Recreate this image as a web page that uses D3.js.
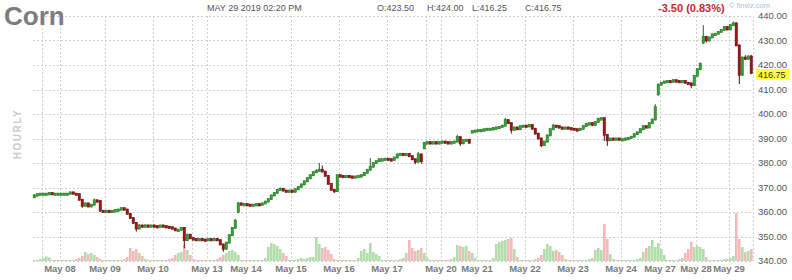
<!DOCTYPE html>
<html>
<head>
<meta charset="utf-8">
<script src="https://cdn.jsdelivr.net/npm/d3@7"></script>
<style>
body{margin:0;background:#fff;}
svg{font-family:Arial,"Liberation Sans",sans-serif;}
</style>
</head>
<body>
<div class="container"></div>
<script>
/* Corn futures, hourly candles May 08 - May 29 2019 */
var width = 792;
var height = 280;
var margin = {top: 16, right: 39, bottom: 19, left: 33};

// hourly bars, one entry per bar
var opens = [366,366.75,367.25,367.5,367.5,367.5,367.75,367.5,367.5,367.5,
  367.5,367.5,367.5,368,367.5,367.25,365,362.5,363.5,362.25,
  363,364.75,364.5,360.5,360.25,360.5,360.25,360.5,360.75,361,
  361.5,361,359.25,357.5,355.5,353.25,354.5,354,354.5,354.25,
  354.5,354.25,354,354.5,354.25,354,353.75,353.25,352.5,352.75,
  353.5,348.5,350.75,349.25,349,348.75,349,348.75,348.5,349,
  348.75,349,348.5,346.75,345,347.5,350.5,353.5,360,363.5,
  363,363.25,363,362.75,363,363.25,363,363.5,364.25,365.25,
  366.75,367.75,369,369.5,368.75,368.25,368.75,368.25,369.25,370.25,
  371.25,372.5,373.75,375,376.25,376.75,377.25,376.5,374.75,371.5,
  369,368.5,375,374.75,374.5,374.75,374.5,374.25,374.5,374.75,
  375,376,377.25,378.5,380,380.75,381.5,381.5,381.75,381.5,
  381.25,382.25,383.5,383.75,383.5,383.75,382.75,381.5,380.5,383.5,
  386,388.25,388.5,388.25,388.5,388.25,388.5,388.75,388.5,388.25,
  388.5,388.75,390.5,388,389.25,389.5,392.5,393,393.25,393.5,
  393.5,393.75,394,394,394.25,394.5,394.75,395.25,397.5,396.25,
  393.5,394.5,393.75,395,395.25,395,395.5,394,392,390,
  387.25,388.75,391.25,393.75,395.25,395,394.5,394.25,394.5,394.25,
  394,393.75,393.5,394,395,396,396.25,395.5,396.75,398,
  398.25,391.5,389.25,390,389.75,390,389.5,389.75,390,390.25,
  390.75,391.75,392.5,393.75,395,394.5,396.25,397.75,408,412,
  412.75,413.25,413.5,413.25,413.75,413.5,413.25,413.5,412.75,412.5,
  411.75,415.5,418.25,429,431.5,430,431.25,432.5,432.75,433.5,
  434.25,435.5,434.5,436.25,437,428,416,423,422.5,423.5];
var highs = [367.25,367.5,367.75,367.75,367.75,368,368,367.75,367.75,367.75,
  367.75,367.75,368.25,368.25,367.75,367.5,365.25,363.75,363.75,363.25,
  365.5,365,364.75,360.75,360.75,360.75,360.75,361,361.25,361.75,
  361.75,361.25,359.5,357.75,355.75,355,354.75,355,354.75,354.75,
  354.75,354.5,354.75,354.75,354.5,354.25,354,353.5,353,353.75,
  353.75,351,351,349.5,349.25,349.25,349.25,349,349.25,349.25,
  349.25,349.25,348.75,347,347.75,350.75,353.75,357,364,363.75,
  363.5,363.5,363.25,363.25,363.5,363.5,363.75,364.5,365.5,367,
  368,369.25,370,369.75,369,369,369,369.5,370.5,371.5,
  372.75,374,375.25,376.5,377.5,380,379,376.75,375,371.75,
  369.25,375.25,375.25,375,375,375,374.75,374.75,375,375.25,
  376.25,377.5,382,380.25,381,381.75,381.75,382,382,381.75,
  382.5,383.75,384,384,384,384,383,381.75,384.5,383.75,
  388.5,388.75,388.75,388.75,388.75,388.75,389,389,388.75,388.75,
  389,391.5,390.75,389.5,389.75,389.75,393.25,393.5,393.75,393.75,
  394,394.25,394.25,394.5,394.75,395,395.5,398.5,397.75,396.5,
  394.75,394.75,395.25,395.5,395.5,395.75,395.75,394.25,392.25,390.25,
  389,391.5,394,396,395.5,395.25,394.75,394.75,394.75,394.5,
  394.25,394,394.25,395.25,396.25,396.5,396.5,397,398.5,398.5,
  398.5,391.75,390.25,390.25,390.25,390.25,390,390.25,390.5,391,
  392,392.75,394,395.25,395.25,396.5,398,404,412.25,413,
  413.5,413.75,413.75,414,414,413.75,413.75,413.75,413,412.75,
  415.75,418.5,421,436.25,431.75,431.5,432.75,433,433.75,434.5,
  435.75,435.75,436.5,437.75,437.25,428.25,423.5,424,423.75,424];
var lows = [365.75,366.5,367,367.25,367.25,367.25,367.25,367.25,367.25,367.25,
  367.25,367.25,367.25,367.25,367,364.75,361.75,362.25,362,362,
  362.75,364.25,360.25,360,360,360,360,360.25,360.5,360.75,
  360.75,359,357.25,355.25,352,353,353.75,353.75,354,354,
  354,353.75,353.75,354,353.75,353.5,353,352.25,352.25,352.5,
  345.25,348.25,349,348.75,348.5,348.5,348.5,348.25,348.25,348.5,
  348.5,348.25,346.5,343.75,344.75,347.25,350.25,353.25,359.5,362.75,
  362.75,362.75,362.5,362.5,362.75,362.75,362.75,363.25,364,365,
  366.5,367.5,368.75,368.5,368,368,368,368,369,370,
  371,372.25,373.5,374.75,376,376.5,376.25,374.5,371.25,368.75,
  367.75,368.25,374.5,374.25,374.25,374.25,374,374,374.25,374.5,
  374.75,375.75,377,378.25,379.75,380.5,381,381.25,381.25,381,
  381,382,383.25,383.25,383.25,382.5,381.25,379.5,380.25,379.75,
  385.75,388,388,388,388,388,388.25,388.25,388,388,
  388.25,388.5,387,387.75,389,388,392.25,392.75,393,393.25,
  393.25,393.5,393.75,393.75,394,394.25,394.5,395,396,392,
  393.25,393.5,393.5,394.75,394.75,394.75,393.75,391.75,389.75,386.5,
  387,388.5,391,393.5,394.75,394.25,394,394,394,393.75,
  393.5,393.25,393.25,393.75,394.75,395.75,395.25,395.25,396.5,397.75,
  389,387,389,389.5,389.5,389.25,389.25,389.5,389.75,390,
  390.5,391.5,392.25,393.5,394.25,394.25,396,397.5,407.5,411.75,
  412.5,413,413,413,413.25,413,413,412.5,412.25,410.5,
  411.5,415.25,418,428.75,429.25,429.75,431,432.25,432.5,433.25,
  434,434.25,434.25,436,427.75,412.25,415.5,422.25,422.25,416.25];
var closes = [366.75,367.25,367.5,367.5,367.5,367.75,367.5,367.5,367.5,367.5,
  367.5,367.5,368,367.5,367.25,365,362.5,363.5,362.25,363,
  364.75,364.5,360.5,360.25,360.5,360.25,360.5,360.75,361,361.5,
  361,359.25,357.5,355.5,353.25,354.5,354,354.5,354.25,354.5,
  354.25,354,354.5,354.25,354,353.75,353.25,352.5,352.75,353.5,
  348.5,350.75,349.25,349,348.75,349,348.75,348.5,349,348.75,
  349,348.5,346.75,345,347.5,350.5,353.5,356.5,363.5,363,
  363.25,363,362.75,363,363.25,363,363.5,364.25,365.25,366.75,
  367.75,369,369.5,368.75,368.25,368.75,368.25,369.25,370.25,371.25,
  372.5,373.75,375,376.25,376.75,377.25,376.5,374.75,371.5,369,
  368.5,375,374.75,374.5,374.75,374.5,374.25,374.5,374.75,375,
  376,377.25,378.5,380,380.75,381.5,381.5,381.75,381.5,381.25,
  382.25,383.5,383.75,383.5,383.75,382.75,381.5,380.5,383.5,380.75,
  388.25,388.5,388.25,388.5,388.25,388.5,388.75,388.5,388.25,388.5,
  388.75,390.5,388,389.25,389.5,388.25,393,393.25,393.5,393.5,
  393.75,394,394,394.25,394.5,394.75,395.25,397.5,396.25,393.5,
  394.5,393.75,395,395.25,395,395.5,394,392,390,387.25,
  388.75,391.25,393.75,395.25,395,394.5,394.25,394.5,394.25,394,
  393.75,393.5,394,395,396,396.25,395.5,396.75,398,398.25,
  391.5,389.25,390,389.75,390,389.5,389.75,390,390.25,390.75,
  391.75,392.5,393.75,395,394.5,396.25,397.75,402.75,412,412.75,
  413.25,413.5,413.25,413.75,413.5,413.25,413.5,412.75,412.5,411.75,
  415.5,418.25,420.5,431.5,430,431.25,432.5,432.75,433.5,434.25,
  435.5,434.5,436.25,437,428,416,423,422.5,423.5,416.75];
var volumes = [1,1,2,3,4.5,3.5,1,1,1,1,
  1,1,1,1,2,3,5,9,7,8,
  6,4,2,1,1,1,1,1,1,1,
  2,4,13,10,12,8,5,2,1,1,
  1,1,1,1,1,2,3,6,8,9,
  16,11,6,2,1,1,1,1,1,1,
  1,2,4,6,8,10,11,9,6,1,
  1,1,1,1,1,1,1,3,14,18,
  17,15,12,8,5,1,1,1,2,3,
  2,3,4,4,24,17,13,14,11,7,
  2,1,1,1,1,1,1,1,3,10,
  12,8,18,9,7,5,1,1,1,1,
  1,1,2,3,8,21,13,10,11,13,
  8,3,1,1,1,1,1,1,1,2,
  4,16,15,14,15,10,8,3,1,1,
  1,1,1,3,17,19,20,21,22,23,
  12,4,1,1,1,1,1,2,3,6,
  12,17,15,10,11,9,6,2,1,1,
  1,1,1,1,1,2,3,11,13,11,
  37,22,7,2,1,1,1,1,1,1,
  1,2,3,9,13,15,21,14,18,12,
  6,1,1,1,1,2,3,8,12,19,
  14,15,14,12,4,1,1,1,1,1,
  2,2,3,5,48,22,14,9,10,12];

var priceTicks = [340,350,360,370,380,390,400,410,420,430,440];
var gridBars = [3,9,24,40,53,58,71,86,102,118,131,136,148,164,180,196,209,221,232];
var dayLabels = ["May 08","May 09","May 10","May 13","May 14","May 15","May 16","May 17",
  "May 20","May 21","May 22","May 23","May 24","May 27","May 28","May 29"];
var dayBars = [9,24,40,58,71,86,102,118,136,148,164,180,196,209,221,232];

var lastPrice = 416.75;
var quote = {time: "MAY 29 2019 02:20 PM", o: "O:423.50", h: "H:424.00", l: "L:416.25", c: "C:416.75", chg: "-3.50 (0.83%)"};

var green = "#35a335", red = "#a01515";
var greenEdge = "#1f6b1f", redEdge = "#5e0b0b";
var volGreen = "#b2ddab", volRed = "#f5b8b8";

var svg = d3.select(".container").append("svg")
  .attr("width", width).attr("height", height);

var xScale = d3.scaleBand().domain(d3.range(closes.length))
  .range([margin.left, width - margin.right]);
var yScale = d3.scaleLinear().domain([340, 440])
  .range([height - margin.bottom, margin.top]);
var volScale = d3.scaleLinear().domain([0, d3.max(volumes)])
  .range([0, 48]);
var bw = xScale.bandwidth();
var yBottom = height - margin.bottom;

//-----------------------------------------
// grid
svg.append("g").selectAll("line").data(priceTicks).enter().append("line")
  .attr("x1", margin.left).attr("x2", width - margin.right)
  .attr("y1", d => Math.round(yScale(d)) + 0.5).attr("y2", d => Math.round(yScale(d)) + 0.5)
  .attr("stroke", "#cfcfcf").attr("stroke-dasharray", "2,2");
svg.append("g").selectAll("line").data(gridBars.concat([closes.length])).enter().append("line")
  .attr("x1", d => (d < closes.length ? xScale(d) : width - margin.right) + 0.5)
  .attr("x2", d => (d < closes.length ? xScale(d) : width - margin.right) + 0.5)
  .attr("y1", margin.top).attr("y2", yBottom)
  .attr("stroke", "#cfcfcf").attr("stroke-dasharray", "2,2");

//-----------------------------------------
// volume
svg.append("g").selectAll("rect").data(volumes).enter().append("rect")
  .attr("x", (d, i) => xScale(i))
  .attr("y", d => yBottom - volScale(d))
  .attr("width", bw - 0.4)
  .attr("height", d => volScale(d))
  .attr("fill", (d, i) => closes[i] >= opens[i] ? volGreen : volRed);

//-----------------------------------------
// candles
var up = (d, i) => d >= opens[i];
var candle = svg.append("g").selectAll("g").data(closes).enter().append("g");
candle.append("rect")
  .attr("x", (d, i) => xScale(i) + 0.8)
  .attr("y", (d, i) => yScale(highs[i]))
  .attr("width", 1)
  .attr("height", (d, i) => Math.max(1, yScale(lows[i]) - yScale(highs[i])))
  .attr("fill", (d, i) => up(d, i) ? greenEdge : redEdge);
candle.append("rect")
  .attr("x", (d, i) => xScale(i) + 0.1)
  .attr("y", (d, i) => yScale(Math.max(d, opens[i])) - 0.6)
  .attr("width", bw - 0.6)
  .attr("height", (d, i) => Math.max(1.4, Math.abs(yScale(d) - yScale(opens[i]))) + 1.2)
  .attr("fill", (d, i) => up(d, i) ? green : red)
  .attr("stroke", (d, i) => up(d, i) ? greenEdge : redEdge)
  .attr("stroke-width", 0.5);

//-----------------------------------------
// axes text
svg.append("g").selectAll("text").data(priceTicks).enter().append("text")
  .attr("x", 758).attr("y", d => yScale(d) + 3)
  .attr("font-size", "9.5px").attr("fill", "#555")
  .text(d => d3.format(".2f")(d));

svg.append("rect").attr("x", 756).attr("y", yScale(lastPrice) - 3.8)
  .attr("width", 33).attr("height", 10.5).attr("fill", "#ffff3c");
svg.append("text").attr("x", 758).attr("y", yScale(lastPrice) + 5.3)
  .attr("font-size", "9px").attr("fill", "#333")
  .text(d3.format(".2f")(lastPrice));

svg.append("g").selectAll("text").data(dayLabels).enter().append("text")
  .attr("x", (d, i) => xScale(dayBars[i]))
  .attr("y", 272)
  .attr("text-anchor", "middle")
  .attr("font-size", "9.5px").attr("font-weight", "bold").attr("fill", "#7a7a7a")
  .text(d => d);

//-----------------------------------------
// header
svg.append("text").attr("x", 4).attr("y", 25)
  .attr("font-size", "26px").attr("font-weight", "bold").attr("fill", "#7d7d7d")
  .text("Corn");
svg.append("text").attr("x", 207).attr("y", 11)
  .attr("font-size", "9px").attr("fill", "#555").text(quote.time);
[[377, quote.o], [427, quote.h], [472, quote.l], [525, quote.c]].forEach(function(p) {
  svg.append("text").attr("x", p[0]).attr("y", 11)
    .attr("font-size", "9px").attr("fill", "#555").text(p[1]);
});
svg.append("text").attr("x", 658).attr("y", 12)
  .attr("font-size", "11px").attr("font-weight", "bold").attr("fill", "#c4282d")
  .text(quote.chg);
svg.append("text").attr("x", 729).attr("y", 8)
  .attr("font-size", "7.5px").attr("fill", "#a9bedc")
  .text("\u00a9 finviz.com");
svg.append("text")
  .attr("transform", "translate(21,134) rotate(-90)")
  .attr("text-anchor", "middle")
  .attr("font-size", "10px").attr("font-weight", "bold").attr("fill", "#cbcbcb")
  .attr("letter-spacing", "1.5px")
  .text("HOURLY");
</script>
</body>
</html>
